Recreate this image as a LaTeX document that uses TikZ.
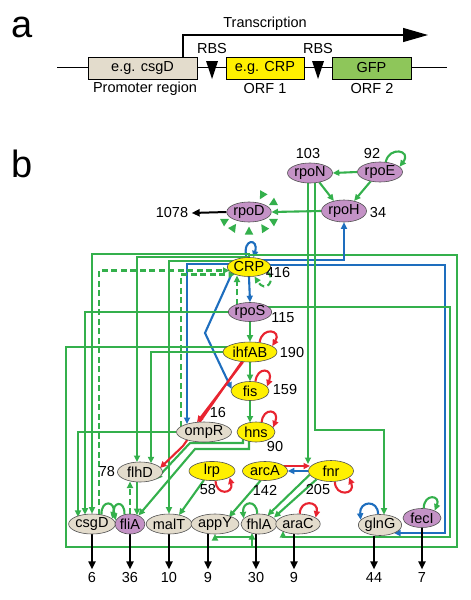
\documentclass[tikz,border=0pt]{standalone}
\usepackage{fontspec}
\setmainfont{Liberation Sans}
\usetikzlibrary{arrows.meta,shapes.geometric,calc}
\definecolor{gr}{RGB}{52,176,76}
\definecolor{bl}{RGB}{30,110,190}
\definecolor{rd}{RGB}{232,36,48}
\definecolor{pu}{RGB}{196,146,198}
\definecolor{ye}{RGB}{255,240,0}
\definecolor{be}{RGB}{227,220,204}
\definecolor{gfp}{RGB}{142,198,90}
\definecolor{edge}{RGB}{80,80,80}
\pgfdeclarelayer{bg}
\pgfsetlayers{bg,main}
\tikzset{
 gene/.style={ellipse, draw=edge, line width=0.6pt, inner sep=0pt},
 pur/.style={gene, fill=pu}, yel/.style={gene, fill=ye}, bei/.style={gene, fill=be},
 abox/.style={rectangle, draw=black, line width=0.8pt, inner sep=0pt, minimum height=22pt},
 big/.style={inner sep=0pt, font=\fontsize{38}{40}\selectfont},
 tip/.style={-{Triangle[length=6.5pt,width=6pt]}},
 ga/.style={draw=gr, line width=2.1pt, tip},
 gl/.style={draw=gr, line width=2.1pt},
 gd/.style={draw=gr, line width=2.1pt, dash pattern=on 6pt off 3.5pt, tip},
 ba/.style={draw=bl, line width=2.1pt, tip},
 ra/.style={draw=rd, line width=2.1pt, tip},
 ka/.style={draw=black, line width=2pt, -{Triangle[length=8pt,width=7pt]}},
 spike/.style={isosceles triangle, isosceles triangle stretches, fill=gr, draw=none, inner sep=0pt, minimum width=8.5pt, minimum height=8pt}
}
\begin{document}
\begin{tikzpicture}[x=1pt,y=-1pt,font=\fontsize{14.5}{17}\selectfont]
\useasboundingbox (0,0) rectangle (471,600);
% ---------------- part a
\node[big] (la) at (22.5,27.5) {a};
\coordinate (l0) at (57,67); \coordinate (l1) at (447,67);
\begin{pgfonlayer}{bg}\draw[line width=1pt] (l0) -- (l1);\end{pgfonlayer}
\node[abox, fill=be, minimum width=109pt] (pr) at (142.5,68) {e.g. csgD};
\node[abox, fill=ye, minimum width=78pt] (orf1) at (265,68) {e.g. CRP};
\node[abox, fill=gfp, minimum width=79pt] (orf2) at (371.5,68) {GFP};
\fill (206,61) -- (218,61) -- (212,79) -- cycle;
\fill (312,61) -- (324,61) -- (318,79) -- cycle;
\node (rbs1) at (212,49) {RBS};
\node (rbs2) at (318,49) {RBS};
\node (tr) at (265,24) {Transcription};
\draw[line width=1.2pt,-{Triangle[length=25pt,width=14pt]}] (183,57) -- (183,35) -- (428,35);
\node (prl) at (145,89) {Promoter region};
\node (o1l) at (265,89) {ORF 1};
\node (o2l) at (372,89) {ORF 2};
% ---------------- part b nodes
\node[big] (lb) at (22.5,163.5) {b};
\node[pur, minimum width=45pt, minimum height=20pt] (rpoN) at (310,173) {rpoN};
\node[pur, minimum width=45pt, minimum height=20pt] (rpoE) at (380,172) {rpoE};
\node[pur, minimum width=45pt, minimum height=22pt] (rpoH) at (344,211) {rpoH};
\node[pur, minimum width=38pt, minimum height=20pt] (rpoD) at (249,212) {rpoD};
\node[yel, minimum width=40pt, minimum height=19pt] (CRP) at (249,267) {CRP};
\node[pur, minimum width=40pt, minimum height=19pt] (rpoS) at (250,312) {rpoS};
\node[yel, minimum width=54pt, minimum height=20pt] (ihfAB) at (250,352) {ihfAB};
\node[yel, minimum width=38pt, minimum height=19pt] (fis) at (250,391) {fis};
\node[yel, minimum width=38pt, minimum height=20pt] (hns) at (256,432) {hns};
\node[bei, minimum width=55pt, minimum height=20pt] (ompR) at (204,432) {ompR};
\node[bei, minimum width=45pt, minimum height=20pt] (flhD) at (140,472) {flhD};
\node[yel, minimum width=46pt, minimum height=19pt] (lrp) at (212,471) {lrp};
\node[yel, minimum width=45pt, minimum height=19pt] (arcA) at (265,471) {arcA};
\node[yel, minimum width=45pt, minimum height=21pt] (fnr) at (331,471) {fnr};
\node[bei, minimum width=40pt, minimum height=20pt] (csgD) at (92,524) {csgD};
\node[pur, minimum width=30pt, minimum height=20pt] (fliA) at (130,524) {fliA};
\node[bei, minimum width=41pt, minimum height=20pt] (malT) at (169,524) {malT};
\node[bei, minimum width=43pt, minimum height=20pt] (appY) at (215,524) {appY};
\node[bei, minimum width=36pt, minimum height=20pt] (fhlA) at (259,524) {fhlA};
\node[bei, minimum width=41pt, minimum height=20pt] (araC) at (298,524) {araC};
\node[bei, minimum width=39pt, minimum height=21pt] (glnG) at (380,525) {glnG};
\node[pur, minimum width=38pt, minimum height=19pt] (fecI) at (422,518) {fecI};
% labels
\node (n103) at (308,154) {103};
\node (n92) at (372,154) {92};
\node (n34) at (378,213) {34};
\node (t1078) at (172,213) {1078};
\node (n416) at (278,273) {416};
\node (n115) at (283,318) {115};
\node (n190) at (292,353) {190};
\node (n159) at (285,390) {159};
\node (n16) at (218,413) {16};
\node (n90) at (275,447) {90};
\node (n78) at (107,472) {78};
\node (n58) at (208,490) {58};
\node (n142) at (265,490) {142};
\node (n205) at (318,490) {205};
\node (o6) at (92,578) {6};
\node (o36) at (130,578) {36};
\node (o10) at (169,578) {10};
\node (o9a) at (208,578) {9};
\node (o30) at (256,578) {30};
\node (o9b) at (294,578) {9};
\node (o44) at (374,578) {44};
\node (o7) at (422,578) {7};
% spikes around rpoD
\foreach \a in {61,28,208,235,270,303,332}
  \node[spike, rotate=\a+180] at ($(rpoD)+({28*cos(\a)},{-20*sin(\a)})$) {};
% ---------------- connectors
\begin{pgfonlayer}{bg}
\draw[ga] (rpoE.west) -- (rpoN.east);
\draw[ga] (rpoN.-45) -- (rpoH.135);
\draw[ga] (rpoE.-135) -- (rpoH.45);
\draw[ga] (rpoE.60) .. controls (389,146) and (412,150) .. (rpoE.15);
\draw[ga] (rpoH.west) -- (rpoD.east);
\draw[ka] (rpoD.west) -- (t1078.east);
% CRP
\draw[ba] (CRP.105) .. controls (242,238) and (259,238) .. (CRP.65);
\draw[ga] (CRP.north) -- ++(0,-3) -| (csgD.north);
\draw[ga] (CRP.north) -| (137,462);
\draw[ga] ($(CRP)+(0,-6)$) -| (malT.north);
\draw[gl] (CRP.north) -- ++(0,-2) -| (457,547) -- (66,547);
\draw[ba] ($(CRP)+(0,-7)$) -| (rpoH.south);
\draw[ba] ($(CRP)+(0,-2)$) -| (445,533) -- (394,533);
\draw[ba] ($(CRP)+(0,-3)$) -| (187,424);
\draw[ba] (CRP.south) -- (rpoS.north);
\draw[ba] (CRP.200) -- (205,333) -- (231.6,389);
\draw[gd] (99,514.6) -- (99,270.5) -- (229.5,270.5);
\draw[gd] (181,426.5) -- (181,274.5) -- (235,274.5);
\draw[gd] (237,304.8) -- (237,275.5);
\draw[gd] (CRP.-15) .. controls (276,280) and (266,294) .. (CRP.-60);
% rpoS
\draw[ga] (rpoS.center) -| (85,514.6);
\draw[ga] ($(rpoS)+(0,-5)$) -| (450,537) -| (283,531);
\draw[ga] (rpoS.south) -- (ihfAB.north);
% ihfAB
\draw[ga] (ihfAB.south) -- (fis.north);
\draw[ga] ($(ihfAB)+(0,-5)$) -| (66,547) -| (252,533);
\draw[ga] (252,537) -| (215,534);
\draw[ga] (ihfAB.center) -| (151,463.3);
\draw[ra] (ihfAB.-125) -- (197,422.3);
\draw[ra] (ihfAB.-130) -- (183,446) -- (160,468);
\draw[ra] (ihfAB.45) .. controls (262,326) and (282,330) .. (ihfAB.15);
% fis, hns
\draw[ga] (fis.south) -- (250,422.5);
\draw[ra] (fis.60) .. controls (257,366) and (274,368) .. (fis.15);
\draw[ra] (hns.60) .. controls (263,407) and (280,409) .. (hns.15);
\draw[ga] (249,441) -- (249,449) -- (195,449) -- (fliA.45);
\draw[ga] (243,439) -- (243,443) -- (190,443) -- (flhD.-25);
% ompR
\draw[ga] (ompR.west) -| (78,516.9);
% lrp, arcA, fnr
\draw[ga] (204,480) -- (179,515);
\draw[ra] (lrp.-70) .. controls (216,496) and (234,494) .. (lrp.-20);
\draw[ra] (284,466) -- (310,466);
\draw[ba] (fnr.west) -- (arcA.east);
\draw[ga] (arcA.-115) -- (229,517);
\draw[ga] (fnr.190) -- (267.5,515.5);
\draw[ga] (fnr.210) -- (274,517.5);
\draw[ra] (fnr.-70) .. controls (335,497) and (356,495) .. (fnr.-20);
% rpoN outputs
\draw[ga] (308,182.8) -- (308,464);
\draw[ga] (315,182.7) -- (315,430) -| (384,514.7);
% flhD / fliA
\draw[ga] (137,481.9) -- (137,515.2);
\draw[gd] (130,514) -- (130,481.5);
% bottom self loops
\draw[ga] (csgD.45) .. controls (101,499) and (116,501) .. (csgD.15);
\draw[ga] (fliA.120) .. controls (125,499) and (111,502) .. (fliA.165);
\draw[ga] (fhlA.100) .. controls (257,499) and (242,501) .. (fhlA.160);
\draw[ra] (araC.80) .. controls (300,499) and (319,501) .. (araC.20);
\draw[ba] (glnG.100) .. controls (378,499) and (359,501) .. (glnG.165);
\draw[ga] (fecI.80) .. controls (424,493) and (441,495) .. (fecI.30);
% outputs
\draw[ka] (csgD.south -| o6) -- (o6.north);
\draw[ka] (fliA.south -| o36) -- (o36.north);
\draw[ka] (malT.south -| o10) -- (o10.north);
\draw[ka] (appY.south -| o9a) -- (o9a.north);
\draw[ka] (fhlA.south -| o30) -- (o30.north);
\draw[ka] (araC.south -| o9b) -- (o9b.north);
\draw[ka] (glnG.south -| o44) -- (o44.north);
\draw[ka] (fecI.south -| o7) -- (o7.north);
\end{pgfonlayer}
\end{tikzpicture}
\end{document}
